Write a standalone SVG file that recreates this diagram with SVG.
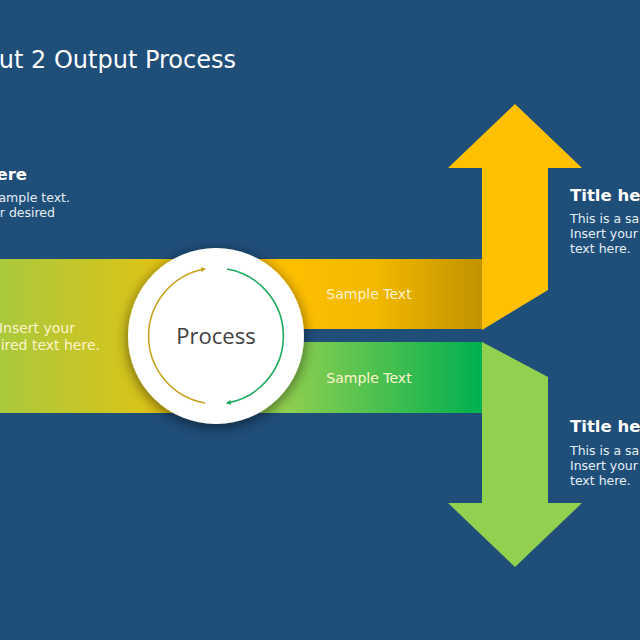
<svg xmlns="http://www.w3.org/2000/svg" width="640" height="640" viewBox="0 0 640 640">
<defs>
<style>
.t{font-family:"DejaVu Sans","Liberation Sans",sans-serif;fill:#ffffff}
.title{font-size:24px}
.h{font-size:16.5px;font-weight:bold}
.b{font-size:12.5px;fill:#e6eef6}
.band{font-size:14px;fill:#fff4cc}
.proc{font-family:"Open Sans","Noto Sans",sans-serif;font-size:22px;fill:#404040}
</style>
<linearGradient id="gLeft" x1="0" y1="0" x2="1" y2="0">
<stop offset="0" stop-color="#aac93c"/>
<stop offset="1" stop-color="#f3c108"/>
</linearGradient>
<linearGradient id="gTop" x1="0" y1="0" x2="1" y2="0">
<stop offset="0" stop-color="#e6b000"/>
<stop offset="0.25" stop-color="#ffc000"/>
<stop offset="0.6" stop-color="#f2b900"/>
<stop offset="1" stop-color="#c29200"/>
</linearGradient>
<linearGradient id="gBot" x1="0" y1="0" x2="1" y2="0">
<stop offset="0" stop-color="#80bf48"/>
<stop offset="0.25" stop-color="#92d050"/>
<stop offset="1" stop-color="#00b04f"/>
</linearGradient>
<filter id="sh" x="-30%" y="-30%" width="160%" height="160%">
<feGaussianBlur in="SourceAlpha" stdDeviation="7"/>
<feOffset dx="0" dy="3" result="b"/>
<feComponentTransfer><feFuncA type="linear" slope="0.55"/></feComponentTransfer>
<feMerge><feMergeNode/><feMergeNode in="SourceGraphic"/></feMerge>
</filter>
<marker id="mGold" viewBox="0 0 10 10" refX="8" refY="5" markerWidth="5" markerHeight="5" orient="auto" markerUnits="userSpaceOnUse">
<path d="M0,0 L10,5 L0,10 z" fill="#c9a020"/>
</marker>
<marker id="mGreen" viewBox="0 0 10 10" refX="8" refY="5" markerWidth="5" markerHeight="5" orient="auto" markerUnits="userSpaceOnUse">
<path d="M0,0 L10,5 L0,10 z" fill="#1aa85a"/>
</marker>
</defs>
<rect width="640" height="640" fill="#1f4e79"/>

<g id="title"><text class="t title" x="236" y="68" text-anchor="end">ut 2 Output Process</text></g>

<g id="input-text">
<text class="t h" x="27" y="180" text-anchor="end">ere</text>
<text class="t b" x="70" y="202" text-anchor="end">ample text.</text>
<text class="t b" x="55" y="217" text-anchor="end">r desired</text>
</g>

<g id="input-band">
<rect x="0" y="259" width="220" height="154" fill="url(#gLeft)"/>
<text class="t band" x="75" y="333" text-anchor="end">Insert your</text>
<text class="t band" x="100" y="350" text-anchor="end">ired text here.</text>
</g>

<g id="output-top">
<rect x="216" y="259" width="266" height="70" fill="url(#gTop)"/>
<text class="t band" x="369" y="299" text-anchor="middle">Sample Text</text>
</g>

<g id="output-bottom">
<rect x="216" y="342" width="266" height="71" fill="url(#gBot)"/>
<text class="t band" x="369" y="383" text-anchor="middle">Sample Text</text>
</g>

<g id="arrow-up">
<path d="M515,104 L582,168 L548,168 L548,290 L482,330 L482,168 L448,168 Z" fill="#ffc000"/>
</g>

<g id="arrow-down">
<path d="M482,342 L548,377 L548,503 L582,503 L515,567 L448,503 L482,503 Z" fill="#92d050"/>
</g>

<g id="output-1-text">
<text class="t h" x="570" y="201">Title he</text>
<text class="t b" x="570" y="223">This is a sa</text>
<text class="t b" x="570" y="238">Insert your</text>
<text class="t b" x="570" y="253">text here.</text>
</g>

<g id="output-2-text">
<text class="t h" x="570" y="432">Title he</text>
<text class="t b" x="570" y="455">This is a sa</text>
<text class="t b" x="570" y="470">Insert your</text>
<text class="t b" x="570" y="485">text here.</text>
</g>

<g id="process">
<circle cx="216" cy="336" r="88" fill="#ffffff" filter="url(#sh)"/>
<text class="proc" x="216" y="344" text-anchor="middle">Process</text>
</g>

<g id="connectors" fill="none" stroke-width="1.6">
<path d="M205,403 A68,68 0 0 1 205,269" stroke="#c9a020" marker-end="url(#mGold)"/>
<path d="M227,269 A68,68 0 0 1 227,403" stroke="#1aa85a" marker-end="url(#mGreen)"/>
</g>
</svg>
